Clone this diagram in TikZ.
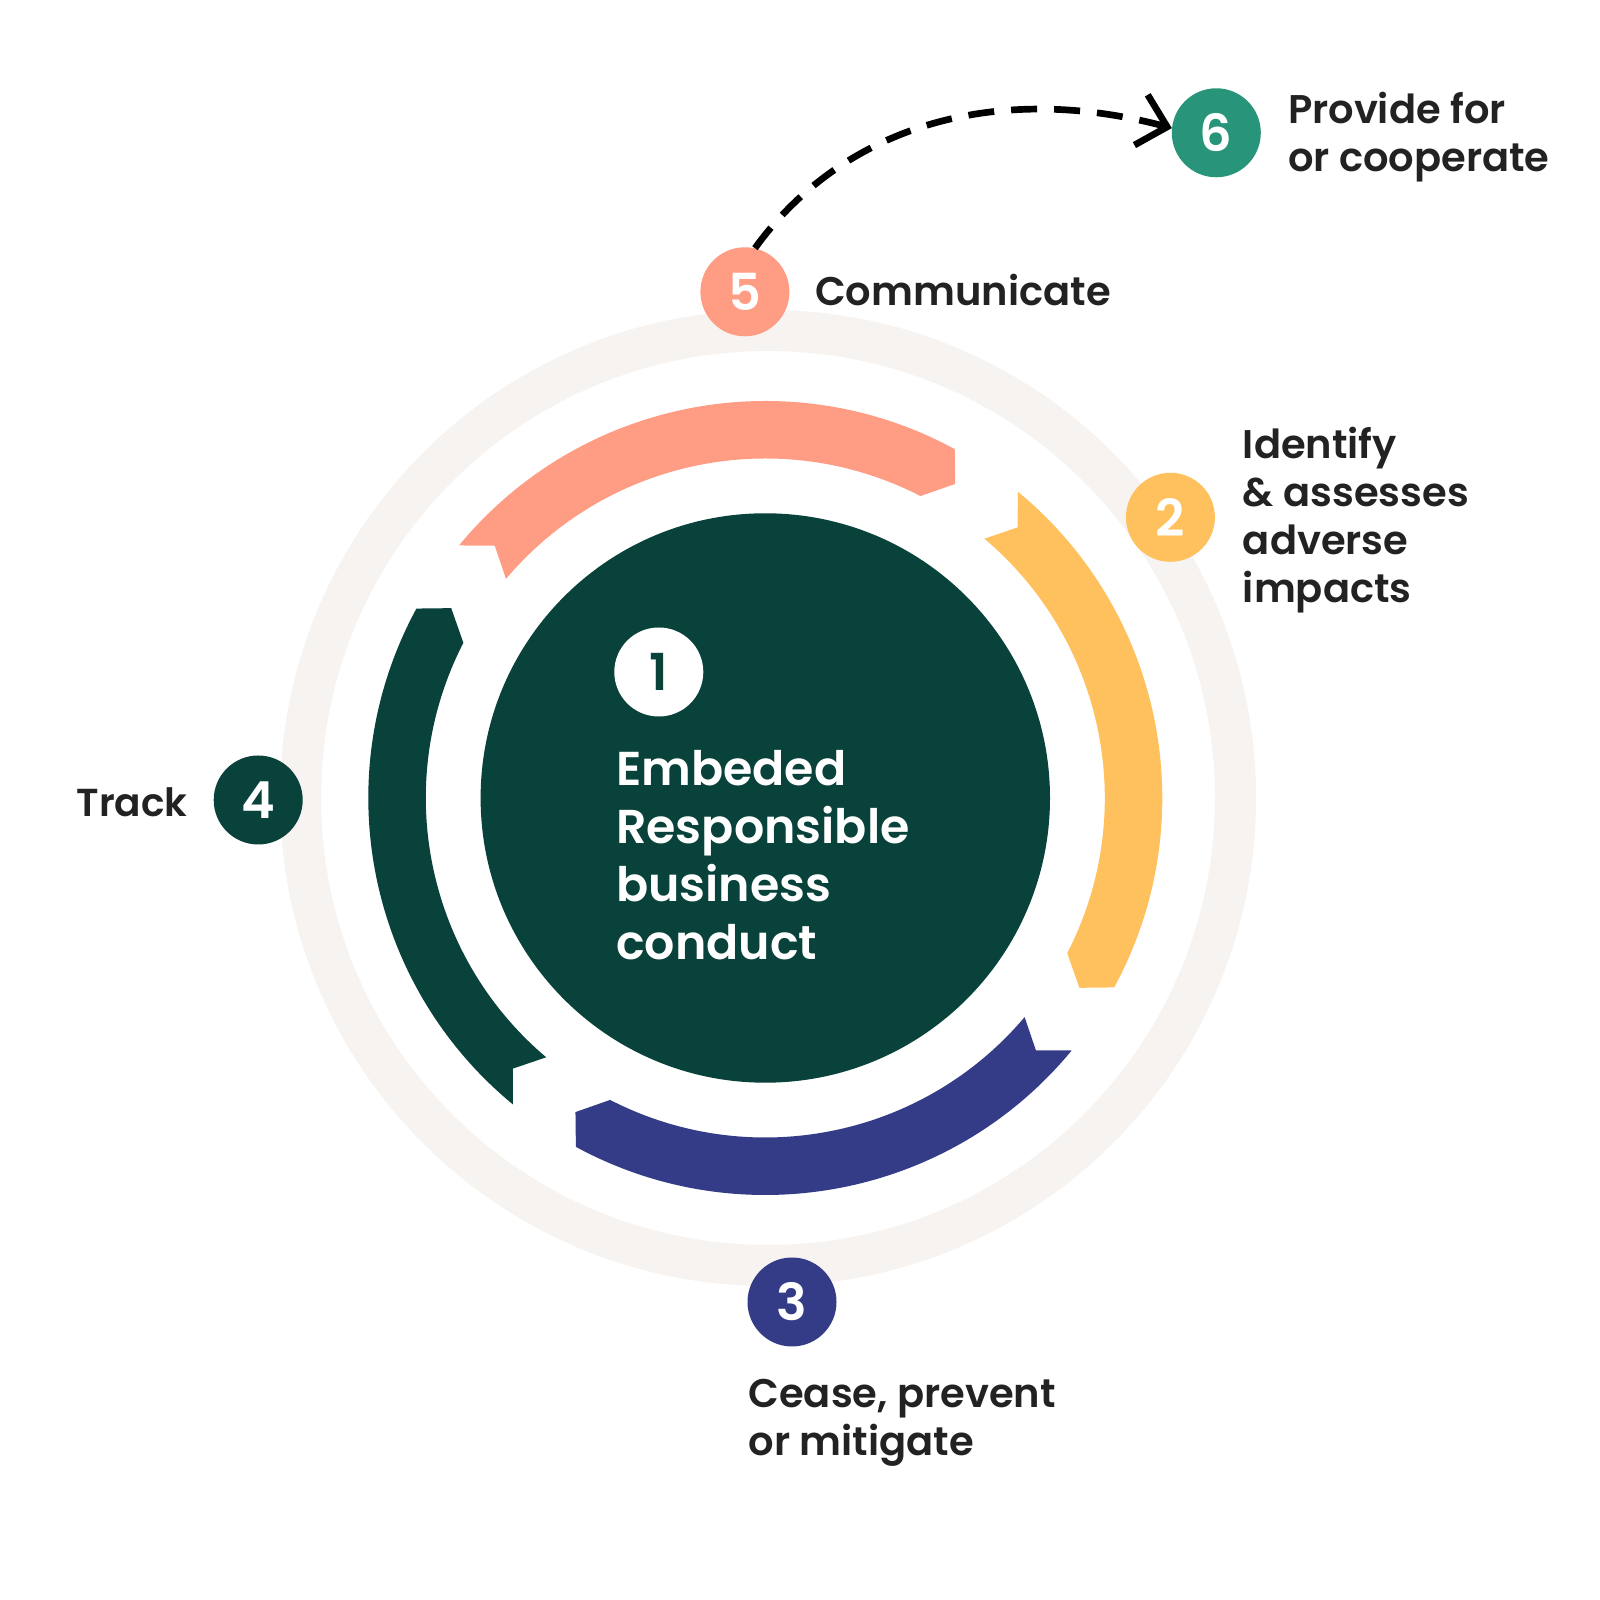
\documentclass[tikz,border=0pt]{standalone}
\usepackage{fontspec}
\setmainfont{Poppins SemiBold}
\usetikzlibrary{arrows.meta}
\definecolor{salmon}{HTML}{FF9C84}
\definecolor{sunny}{HTML}{FFC15E}
\definecolor{navy}{HTML}{343C87}
\definecolor{forest}{HTML}{08423A}
\definecolor{teal6}{HTML}{28947A}
\definecolor{ringc}{HTML}{F6F3F0}
\definecolor{ink}{HTML}{222222}
\newcommand\segpiece[2]{%
  \fill[#2, shift={(765.3,802)}, rotate=#1]
    (140.5:397) arc[start angle=140.5, end angle=61.5, radius=397]
    -- (58.85:367) -- (62.8:339.5)
    arc[start angle=62.8, end angle=139.8, radius=339.5]
    -- (137:370) -- cycle;}
\begin{document}
\begin{tikzpicture}[x=1pt,y=1pt,
  numc/.style={circle, minimum size=89pt, inner sep=0pt, text=white,
    font=\fontsize{51}{51}\selectfont},
  lbl/.style={anchor=base west, align=left, inner sep=0pt, text=ink,
    font=\fontsize{40}{48}\selectfont},
  dashlink/.style={line width=6.7pt, dash pattern=on 26pt off 17pt,
    -{Straight Barb[length=27pt, width=52pt]}}]
\useasboundingbox (0,0) rectangle (1600,1600);
\fill[white] (0,0) rectangle (1600,1600);
% outer ring
\draw[ringc, line width=41pt] (768,802) circle[radius=467.5];
% cycle segments
\segpiece{0}{salmon}
\segpiece{-90}{sunny}
\segpiece{-180}{navy}
\segpiece{90}{forest}
% centre disc
\fill[forest] (765.3,802) circle[radius=284.7];
% numbered circles
\node[numc, fill=white, text=forest] (n1) at (658.8,928) {1};
\node[numc, fill=sunny] (n2) at (1170.4,1082.7) {2};
\node[numc, fill=navy] (n3) at (792,298) {3};
\node[numc, fill=forest] (n4) at (258.2,800) {4};
\node[numc, fill=salmon] (n5) at (744.9,1308.2) {5};
\node[numc, fill=teal6] (n6) at (1216.3,1467.2) {6};
% labels (anchored at the baseline of their last line)
\node[lbl] (t5) at (815,1294) {Communicate};
\node[lbl] (t6) at (1287.8,1428.5) {Provide for\\or cooperate};
\node[lbl] (t2) at (1242.7,997) {Identify\\\& assesses\\adverse\\impacts};
\node[lbl, anchor=base east, font=\fontsize{39}{48}\selectfont] (t4) at (187.8,783.7) {Track};
\node[lbl] (t3) at (748.3,144) {Cease, prevent\\or mitigate};
\node[lbl, text=white, font=\fontsize{47.5}{58}\selectfont] (t1) at (616,640)
  {Embeded\\Responsible\\business\\conduct};
% dashed link 5 -> 6
\draw[dashlink] (n5.77) .. controls (840,1470) and (990,1520) .. (n6.174);
\end{tikzpicture}
\end{document}
